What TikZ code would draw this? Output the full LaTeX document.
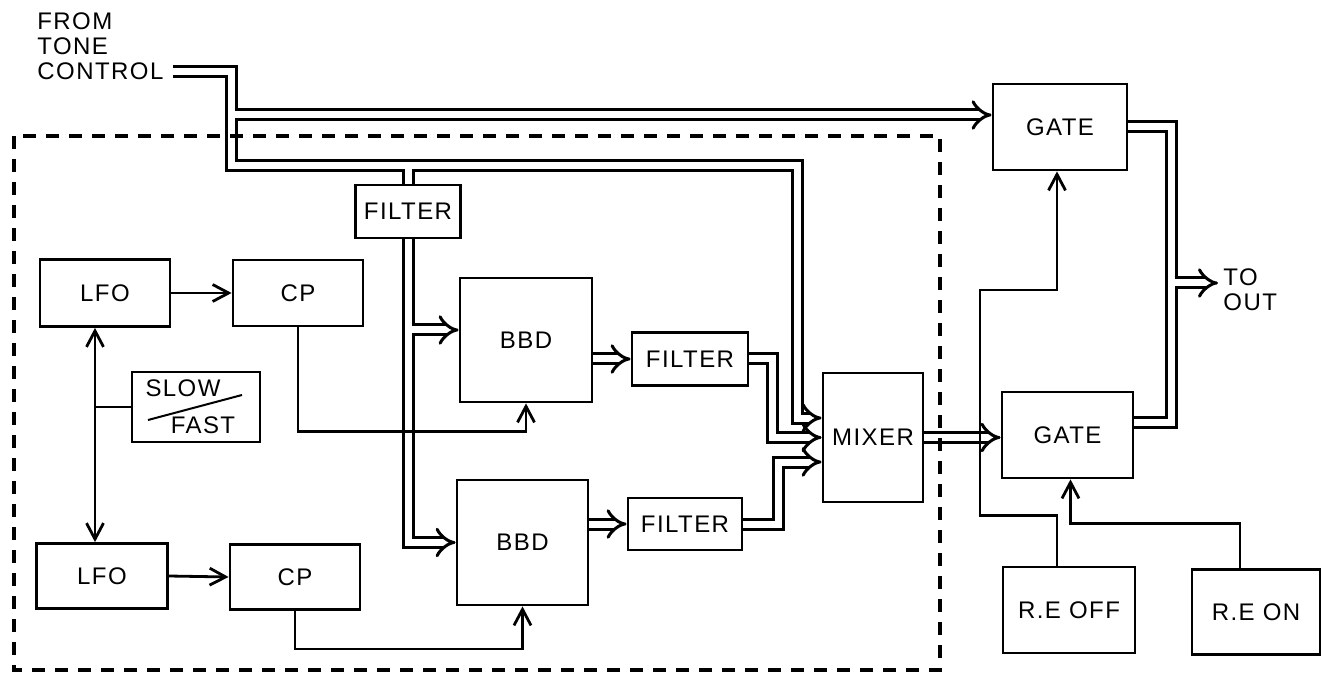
\documentclass[tikz,border=0pt]{standalone}
\usepackage{fontspec}
\setmainfont[LetterSpace=6]{Liberation Sans}
\usetikzlibrary{arrows.meta, calc, positioning}

\tikzset{
  blk/.style={draw, line width=1.4pt, inner sep=0pt},
  wire/.style={line width=1.4pt},
  ctrl/.style={wire, -{Straight Barb[length=8pt, width=8.5pt, line width=1.4pt]}},
  bus/.style={double, double distance=3.5pt, line width=1.5pt},
  busto/.style={bus, -{Implies[scale=1.4]}},
  dashbox/.style={line width=1.7pt, dash pattern=on 6.5pt off 5pt},
}

\begin{document}
\begin{tikzpicture}[x=0.5pt, y=-0.5pt, font=\fontsize{12}{12.5}\selectfont]
  \useasboundingbox (0,0) rectangle (1323,679);

  % blocks
  \node[blk, minimum width=65pt, minimum height=33.5pt] (lfoA) at (105,293) {LFO};
  \node[blk, minimum width=65pt, minimum height=33pt] (cpA) at (298,293) {CP};
  \node[blk, minimum width=65.5pt, minimum height=32.5pt] (lfoB) at (102,576) {LFO};
  \node[blk, minimum width=65pt, minimum height=32.5pt] (cpB) at (295,577) {CP};
  \node[blk, minimum width=64pt, minimum height=35pt] (slowfast) at (196,407) {};
  \node (slowlbl) at (183,388) {SLOW};
  \node (fastlbl) at (203,425) {FAST};
  \draw[line width=1pt] (148,420) -- (242,395);
  \node[blk, minimum width=52.5pt, minimum height=26.5pt] (filterA) at (408,211.5) {FILTER};
  \node[blk, minimum width=66pt, minimum height=62pt] (bbdA) at (526,340) {BBD};
  \node[blk, minimum width=65.5pt, minimum height=62.5pt] (bbdB) at (522.5,542.5) {BBD};
  \node[blk, minimum width=58pt, minimum height=26.5pt] (filterB) at (690,359) {FILTER};
  \node[blk, minimum width=57pt, minimum height=26pt] (filterC) at (685,524) {FILTER};
  \node[blk, minimum width=50pt, minimum height=64.5pt] (mixer) at (873,437.5) {MIXER};
  \node[blk, minimum width=67pt, minimum height=43pt] (gateA) at (1060,127) {GATE};
  \node[blk, minimum width=65.5pt, minimum height=43pt] (gateB) at (1067.5,435) {GATE};
  \node[blk, minimum width=66pt, minimum height=43pt] (reoff) at (1069,610) {R.E OFF};
  \node[blk, minimum width=64pt, minimum height=42.5pt] (reon) at (1256,612) {R.E ON};

  % labels
  \node[anchor=west, align=left, inner sep=0pt] (tonelbl) at (37,46) {FROM\\TONE\\CONTROL};
  \node[anchor=west, align=left, inner sep=0pt] (outlbl) at (1223,290) {TO\\OUT};

  % bus points
  \coordinate (tonein) at (173,72);
  \coordinate (tcorner) at (231,166);
  \coordinate (tbranch) at (234.5,115);
  \coordinate (fstub) at (408,169.5);
  \coordinate (mixin) at (797,418);
  \coordinate (fbranch) at (411.5,330);
  \coordinate (fbturn) at (772,437.5);
  \coordinate (fcturn) at (778,462);
  \coordinate (outcol) at (1171,422);
  \coordinate (outbranch) at (1174.5,283);
  \coordinate (outtip) at (1218,283);

  % signal buses
  \draw[busto] (tonein) -| (tcorner) -- (mixin |- tcorner) -- (mixin) -- (mixer.west |- mixin);
  \draw[busto] (tbranch) -- (gateA.west |- tbranch);
  \draw[bus] (fstub) -- (filterA.north);
  \draw[busto] (filterA.south) -- (filterA.south |- bbdB.west) -- (bbdB.west);
  \draw[busto] (fbranch) -- (bbdA.west |- fbranch);
  \draw[busto] (bbdA.east |- filterB.west) -- (filterB.west);
  \draw[busto] (bbdB.east |- filterC.west) -- (filterC.west);
  \draw[busto] (filterB.east) -| (fbturn) -- (mixer.west |- fbturn);
  \draw[busto] (filterC.east) -| (fcturn) -- (mixer.west |- fcturn);
  \draw[busto] (mixer.east) -- (gateB.west |- mixer.east);
  \draw[bus] (gateA.east) -| (outcol) -- (gateB.east |- outcol);
  \draw[busto] (outbranch) -- (outtip);

  % control lines
  \coordinate (sync) at (95,407);
  \coordinate (offleft) at (980,290);
  \draw[ctrl] (lfoA.east) -- (cpA.west);
  \draw[ctrl] (lfoB.east) -- (cpB.west);
  \draw[wire, {Straight Barb[length=8pt, width=8.5pt, line width=1.4pt]}-{Straight Barb[length=8pt, width=8.5pt, line width=1.4pt]}]
    (sync |- lfoA.south) -- (sync |- lfoB.north);
  \draw[wire] (slowfast.west) -- (sync);
  \draw[ctrl] (cpA.south) -- ++(0,104) -| (bbdA.south);
  \draw[ctrl] (cpB.south) -- ++(0,38) -| (bbdB.south);
  \draw[ctrl] ($(reoff.north)+(-12,0)$) -- ++(0,-50) -| (offleft) -| ($(gateA.south)+(-3,0)$);
  \draw[ctrl] ($(reon.north)+(-16,0)$) -- ++(0,-45) -| ($(gateB.south)+(3,0)$);

  % chorus section
  \draw[dashbox] (14,136) rectangle (940,670);
\end{tikzpicture}
\end{document}
